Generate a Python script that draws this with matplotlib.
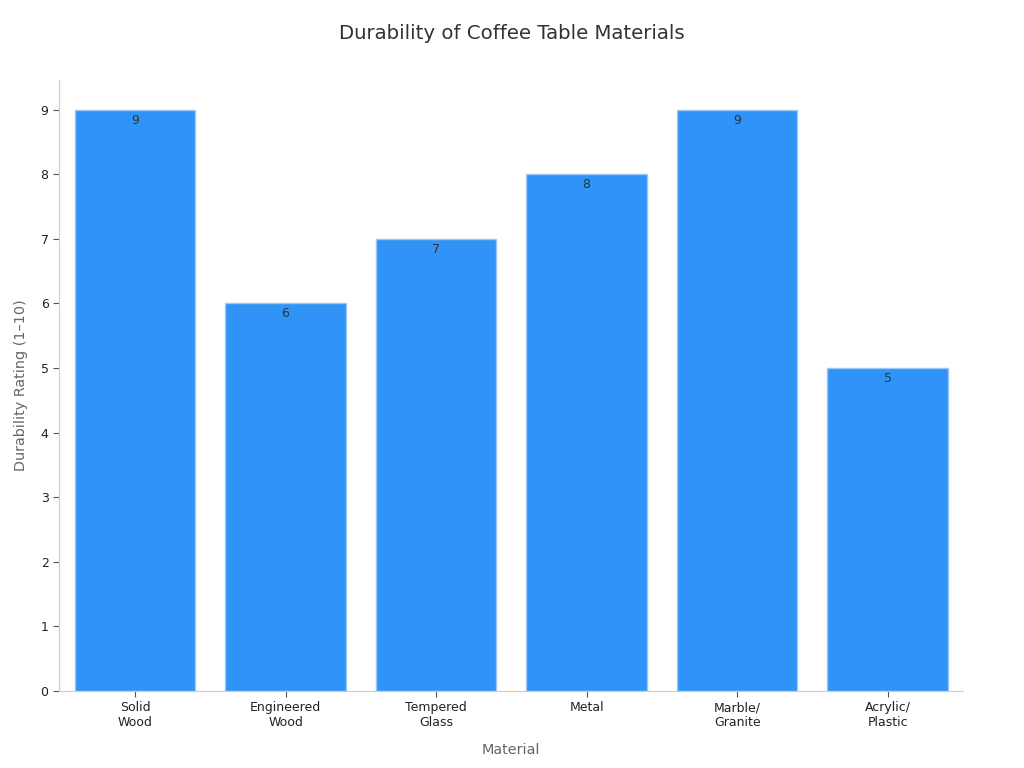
import matplotlib.pyplot as plt
import numpy as np

materials = ["Solid\nWood", "Engineered\nWood", "Tempered\nGlass", "Metal", "Marble/\nGranite", "Acrylic/\nPlastic"]
durability = [9, 6, 7, 8, 9, 5]

fig = plt.figure(figsize=(10.24, 7.68), dpi=100)
ax = fig.add_axes([0.0576, 0.1003, 0.8828, 0.7955])

x = np.arange(len(materials))
bars = ax.bar(x, durability, width=0.8, color="#2f93f8", edgecolor="#9cc8f5", linewidth=1)

# valeurs dans le haut des barres
for xi, v in zip(x, durability):
    ax.text(xi, v - 0.06, str(v), ha="center", va="top", fontsize=9, color="#333333")

ax.set_xlim(-0.505, 5.5)
ax.set_ylim(0, 9.46)
ax.set_xticks(x)
ax.set_xticklabels(materials, fontsize=9, color="#222222")
ax.set_yticks(range(0, 10))
ax.tick_params(axis="y", labelsize=9, labelcolor="#222222", color="#555555", length=4)
ax.tick_params(axis="x", color="#555555", length=4)

for s in ["top", "right"]:
    ax.spines[s].set_visible(False)
for s in ["left", "bottom"]:
    ax.spines[s].set_color("#cccccc")

ax.set_xlabel("Material", fontsize=10.4, color="#666666", labelpad=10)
ax.set_ylabel("Durability Rating (1\u201310)", fontsize=10.4, color="#666666", labelpad=9)
fig.suptitle("Durability of Coffee Table Materials", fontsize=14.2, color="#333333", y=0.969)

fig.savefig("out.png", dpi=100)
